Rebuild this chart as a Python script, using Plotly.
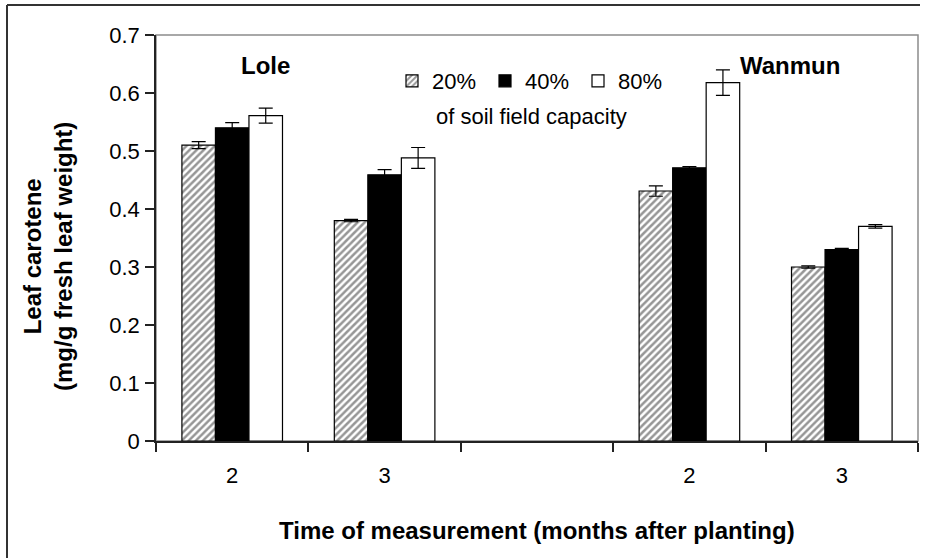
import plotly.graph_objects as go

# Leaf carotene (mg/g fresh leaf weight) by soil water regime
positions = [0, 1, 3, 4]                      # slot 2 is the gap between cultivars
month_labels = ["2", "3", "2", "3"]
series_names = ["20%", "40%", "80%"]
carotene_20 = [0.510, 0.380, 0.431, 0.300]
carotene_40 = [0.540, 0.459, 0.471, 0.330]
carotene_80 = [0.561, 0.488, 0.618, 0.370]
err_20 = [0.006, 0.002, 0.009, 0.002]
err_40 = [0.009, 0.009, 0.002, 0.002]
err_80 = [0.013, 0.018, 0.022, 0.003]
cultivars = ["Lole", "Wanmun"]

W, H = 938, 558
M_L, M_R, M_T, M_B = 156, 20, 35, 117
PW, PH = W - M_L - M_R, H - M_T - M_B
FONT = "Arial, Liberation Sans, sans-serif"


def px_x(p):
    return (p - M_L) / PW


def px_y(p):
    return (H - M_B - p) / PH


bar_styles = [
    dict(color="white", pattern=dict(shape="/", fgcolor="#2e2e2e", bgcolor="white",
                                     size=5, solidity=0.5)),
    dict(color="black"),
    dict(color="white"),
]
values = [carotene_20, carotene_40, carotene_80]
errors = [err_20, err_40, err_80]

fig = go.Figure()
for name, vals, errs, style in zip(series_names, values, errors, bar_styles):
    fig.add_trace(go.Bar(
        x=positions, y=vals, name=name,
        marker=dict(line=dict(color="black", width=1.2), **style),
        error_y=dict(type="data", array=errs, color="black", thickness=1.2, width=7),
    ))

fig.update_layout(
    width=W, height=H,
    margin=dict(l=M_L, r=M_R, t=M_T, b=M_B),
    paper_bgcolor="white", plot_bgcolor="white",
    font=dict(family=FONT, color="black", size=22),
    barmode="group", bargap=0.34, bargroupgap=0,
    showlegend=True,
    legend=dict(orientation="h", x=px_x(392), y=px_y(81), xanchor="left", yanchor="middle",
                font=dict(size=22), itemwidth=30, entrywidth=48, entrywidthmode="pixels",
                bgcolor="rgba(0,0,0,0)", traceorder="normal"),
    xaxis=dict(range=[-0.5, 4.5], tickmode="array", tickvals=positions, ticktext=month_labels,
               ticks="", showline=True, linecolor="#222", linewidth=1.5, showgrid=False,
               zeroline=False, ticklabelstandoff=14, tickfont=dict(size=22),
               minor=dict(tickmode="array", tickvals=[-0.5, 0.5, 1.5, 2.5, 3.5, 4.5],
                          ticks="outside", ticklen=9, tickcolor="#222", tickwidth=1.5)),
    yaxis=dict(range=[0, 0.7], dtick=0.1, ticks="outside", ticklen=9, tickcolor="#222",
               tickwidth=1.5, showline=True, linecolor="#222", linewidth=1.5,
               showgrid=False, zeroline=False, ticklabelstandoff=1, tickfont=dict(size=22)),
)

# plot-area frame (grey top and right edges)
fig.add_shape(type="rect", xref="paper", yref="paper", x0=0, x1=1, y0=0, y1=1,
              line=dict(color="#8c8c8c", width=1.5), layer="below")
# outer frame (top and left edges)
fig.add_shape(type="line", xref="paper", yref="paper", x0=px_x(7), x1=px_x(920),
              y0=px_y(5), y1=px_y(5), line=dict(color="#333", width=2))
fig.add_shape(type="line", xref="paper", yref="paper", x0=px_x(7), x1=px_x(7),
              y0=px_y(5), y1=px_y(H + 5), line=dict(color="#333", width=2))

# cultivar labels
fig.add_annotation(x=0.22, y=0.648, text="<b>%s</b>" % cultivars[0], showarrow=False,
                   xanchor="center", yanchor="middle", font=dict(size=24))
fig.add_annotation(x=3.66, y=0.648, text="<b>%s</b>" % cultivars[1], showarrow=False,
                   xanchor="center", yanchor="middle", font=dict(size=24))
# legend subtitle
fig.add_annotation(xref="paper", yref="paper", x=px_x(531), y=px_y(116),
                   xanchor="center", yanchor="middle",
                   text="of soil field capacity", showarrow=False, font=dict(size=22))
# axis titles
fig.add_annotation(xref="paper", yref="paper", x=px_x(48), y=px_y(257), textangle=-90,
                   xanchor="center", yanchor="middle",
                   text="<b>Leaf carotene<br>(mg/g fresh leaf weight)</b>", showarrow=False,
                   font=dict(size=24))
fig.add_annotation(xref="paper", yref="paper", x=px_x(537), y=px_y(530),
                   xanchor="center", yanchor="middle",
                   text="<b>Time of measurement (months after planting)</b>",
                   showarrow=False, font=dict(size=24))

fig.write_html("out.html")
